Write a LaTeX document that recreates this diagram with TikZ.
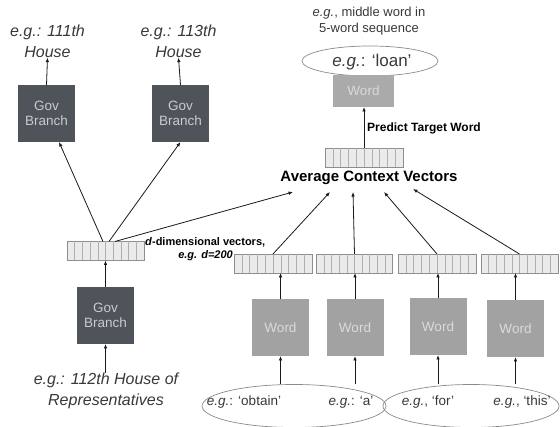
\documentclass[tikz,border=0pt]{standalone}
\usepackage{fontspec}
\setmainfont{Liberation Sans}
\usetikzlibrary{arrows.meta,shapes.geometric,calc}
\definecolor{govc}{HTML}{4F535A}
\definecolor{govtext}{HTML}{C9CBCE}
\definecolor{wordc}{HTML}{A2A2A2}
\definecolor{wordtop}{HTML}{AAAAAA}
\definecolor{wordtext}{HTML}{DADADA}
\definecolor{vecfill}{HTML}{EBEBEB}
\definecolor{vecline}{HTML}{8E8E8E}
\definecolor{cellc}{HTML}{AFAFAF}
\definecolor{ellc}{HTML}{8A8A8A}
\definecolor{labc}{HTML}{383838}
\begin{document}
\begin{tikzpicture}[x=1pt,y=-1pt,
  govbox/.style={fill=govc, minimum width=57pt, minimum height=57pt, inner sep=0pt, outer sep=0pt, text=govtext, font=\fontsize{13.5}{15.5}\selectfont, align=center},
  wordbox/.style={fill=wordc, minimum width=57pt, minimum height=57pt, inner sep=0pt, outer sep=0pt, text=wordtext, font=\fontsize{13.5}{15.5}\selectfont},
  vecbox/.style={draw=vecline, fill=vecfill, line width=0.8pt, minimum width=77pt, minimum height=19pt, inner sep=0pt, outer sep=0pt},
  cellline/.style={draw=cellc, line width=0.6pt},
  ell/.style={ellipse, draw=ellc, line width=0.7pt, inner sep=0pt, outer sep=0pt},
  lab/.style={text=labc, align=center, font=\fontsize{16}{21}\selectfont\itshape, inner sep=0pt},
  eltext/.style={text=labc, font=\fontsize{13.5}{16}\selectfont, inner sep=0pt},
  boldlab/.style={text=black, font=\fontsize{11}{13}\selectfont\bfseries, inner sep=0pt},
  arr/.style={-{Latex[length=4.5pt,width=3.6pt]}, line width=0.8pt, black!90},
  ln/.style={line width=0.8pt, black!90}]
\useasboundingbox (0,0) rectangle (560,427);

% ellipses (drawn first)
\node[ell, minimum width=184pt, minimum height=43pt] (ellL) at (294,406) {};
\node[ell, minimum width=176pt, minimum height=43pt] (ellR) at (471,406) {};
\node[ell, minimum width=136pt, minimum height=30pt] (ellT) at (370,61) {};

% Gov branch boxes
\node[govbox] (govA) at (46.5,113.5) {Gov\\Branch};
\node[govbox] (govB) at (180.5,113.5) {Gov\\Branch};
\node[govbox] (govC) at (105.5,315.5) {Gov\\Branch};

% labels
\node[lab] (labA) at (47.5,41) {e.g.: 111th\\House};
\node[lab] (labB) at (178.5,41) {e.g.: 113th\\House};
\node[lab] (labC) at (106,391) {e.g.: 112th House of\\Representatives};
\node[text=labc, align=center, font=\fontsize{13}{15.5}\selectfont, inner sep=0pt] (labT) at (369,21) {\textit{e.g.}, middle word in\\5-word sequence};

% vectors
\node[vecbox] (vecL) at (105.5,251) {};
\node[vecbox, minimum width=78pt] (vecA) at (364,158) {};
\node[vecbox, minimum width=78pt] (v1) at (273,263.5) {};
\node[vecbox, minimum width=76pt] (v2) at (354.5,263.5) {};
\node[vecbox, minimum width=78pt] (v3) at (437,263.5) {};
\node[vecbox, minimum width=77pt] (v4) at (519.5,263.5) {};
\foreach \v in {vecL,vecA,v1,v2,v3,v4}{
  \foreach \i in {1,...,9}{
    \draw[cellline] ($(\v.north west)!\i/10!(\v.north east)$) -- ($(\v.south west)!\i/10!(\v.south east)$);
  }
}

% word boxes
\node[wordbox, fill=wordtop, minimum width=61pt, minimum height=32pt] (wT) at (363.5,91) {Word};
\node[wordbox] (w1) at (280.5,327.5) {Word};
\node[wordbox] (w2) at (355,327.5) {Word};
\node[wordbox] (w3) at (438,326.5) {Word};
\node[wordbox] (w4) at (515.5,328.5) {Word};

% ellipse texts
\node[eltext] (t0) at (372,62) {\fontsize{17}{19}\selectfont\textit{e.g.}: ‘loan’};
\node[eltext] (t1) at (244,402) {\textit{e.g.}: ‘obtain’};
\node[eltext] (t2) at (351,402) {\textit{e.g.}: ‘a’};
\node[eltext] (t3) at (428,402) {\textit{e.g.}, ‘for’};
\node[eltext] (t4) at (522,402) {\textit{e.g.}, ‘this’};

% bold labels
\node[boldlab, font=\fontsize{15}{17}\selectfont\bfseries] (avgtxt) at (369,178) {Average Context Vectors};
\node[boldlab, font=\fontsize{12}{14}\selectfont\bfseries, anchor=west] (pred) at (367,128) {Predict Target Word};
\node[boldlab, anchor=west] (dim1) at (145,242) {\textit{d}-dimensional vectors,};
\node[boldlab, anchor=east] (dim2) at (233,256) {\textit{e.g. d=200}};

% arrow end points at the average label
\coordinate (p0) at (293,192);
\coordinate (p1) at (330,192);
\coordinate (p2) at (353,192);
\coordinate (p3) at (384,192);
\coordinate (p4) at (413,189);

% connectors
\draw[arr] (govA.north) -- (labA.south);
\draw[arr] (govB.north) -- (labB.south);
\draw[arr] ([xshift=-2.5pt]vecL.north) -- ([xshift=12.5pt]govA.south);
\draw[arr] ([xshift=3.5pt]vecL.north) -- (govB.south);
\draw[arr] ([xshift=9.5pt]vecL.north) -- (p0);
\draw[arr] (govC.north) -- (vecL.south -| govC.north);
\draw[arr] (labC.north -| govC.south) -- (govC.south);

\draw[arr] (vecA.north) -- (vecA.north |- wT.south);
\draw[arr] (v1.north) -- (p1);
\draw[arr] (v2.north) -- (p2);
\draw[arr] (v3.north) -- (p3);
\draw[arr] (v4.north) -- (p4);

\draw[arr] (w1.north) -- (w1.north |- v1.south);
\draw[arr] (w2.north) -- (w2.north |- v2.south);
\draw[arr] (w3.north) -- (w3.north |- v3.south);
\draw[arr] (w4.north) -- (w4.north |- v4.south);

\draw[arr] (w1.south |- ellL.north) -- (w1.south);
\draw[arr] (w2.south |- ellL.north) -- (w2.south);
\draw[arr] (w3.south |- ellR.north) -- (w3.south);
\draw[arr] (w4.south |- ellR.north) -- (w4.south);
\end{tikzpicture}
\end{document}
